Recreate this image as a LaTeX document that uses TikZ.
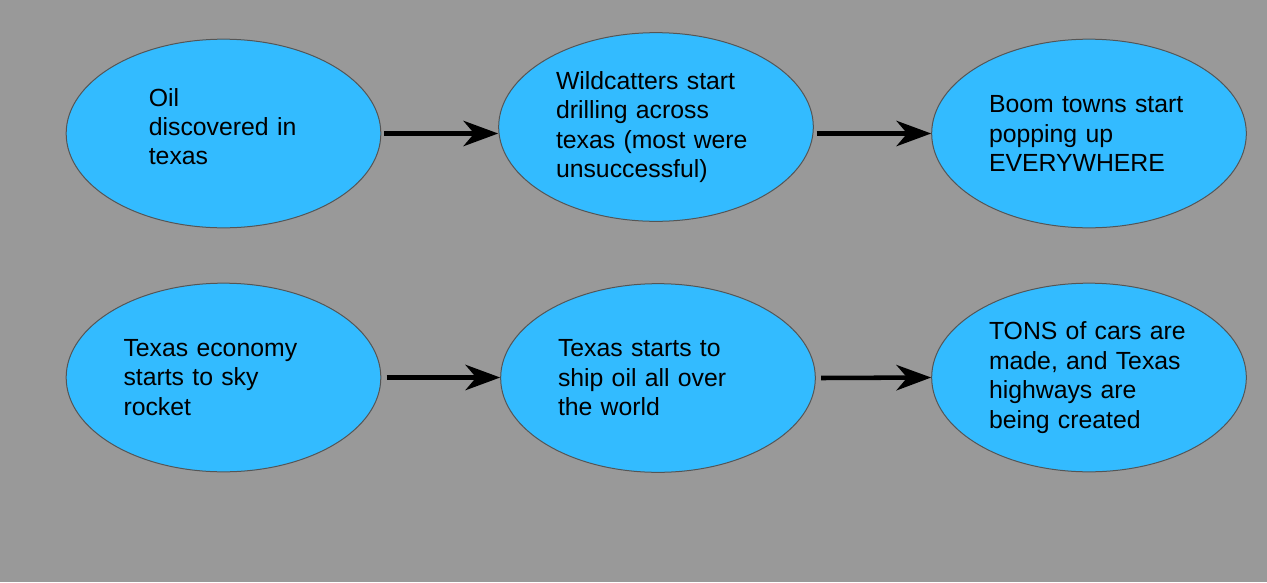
\documentclass[tikz,border=0pt]{standalone}
\usepackage{fontspec}
\setmainfont{Liberation Sans}
\usetikzlibrary{arrows.meta}
\definecolor{bggray}{HTML}{999999}
\definecolor{bubble}{HTML}{33BBFF}
\definecolor{rim}{HTML}{555555}
\tikzset{
  event/.style={ellipse, draw=rim, line width=0.75pt, fill=bubble, inner sep=0pt,
    minimum width=236pt, minimum height=141.5pt, align=left, text width=150pt,
    font=\fontsize{18.6pt}{22.1pt}\selectfont},
  flow/.style={line width=3.4pt, -{Stealth[length=26pt, width=19pt, inset=8pt]}}
}
\usetikzlibrary{shapes.geometric}
\begin{document}
\begin{tikzpicture}[x=0.75pt, y=-0.75pt]
\fill[bggray] (0,0) rectangle (1267,582);

\node[event, text width=112pt] (oil) at (223.5,133.5) {Oil\\discovered in\\texas\\[-11.6pt]\mbox{}};
\node[event] (wild) at (656,127) {Wildcatters start\\drilling across\\texas (most were\\unsuccessful)};
\node[event] (boom) at (1089,133.5) {Boom towns start\\popping up\\EVERYWHERE};
\node[event] (econ) at (223.5,377.5) {Texas economy\\starts to sky\\rocket};
\node[event] (ship) at (658,378) {Texas starts to\\ship oil all over\\the world};
\node[event] (cars) at (1089,377.5) {TONS of cars are\\made, and Texas\\highways are\\being created};

\draw[flow] ([xshift=2pt]oil.east) -- (oil.east -| wild.west);
\draw[flow] ([xshift=2pt]wild.east |- boom.west) -- (boom.west);
\draw[flow] ([xshift=4pt]econ.east) -- (econ.east -| ship.west);
\draw[flow] ([xshift=4pt]ship.east) -- (cars.west);
\end{tikzpicture}
\end{document}
